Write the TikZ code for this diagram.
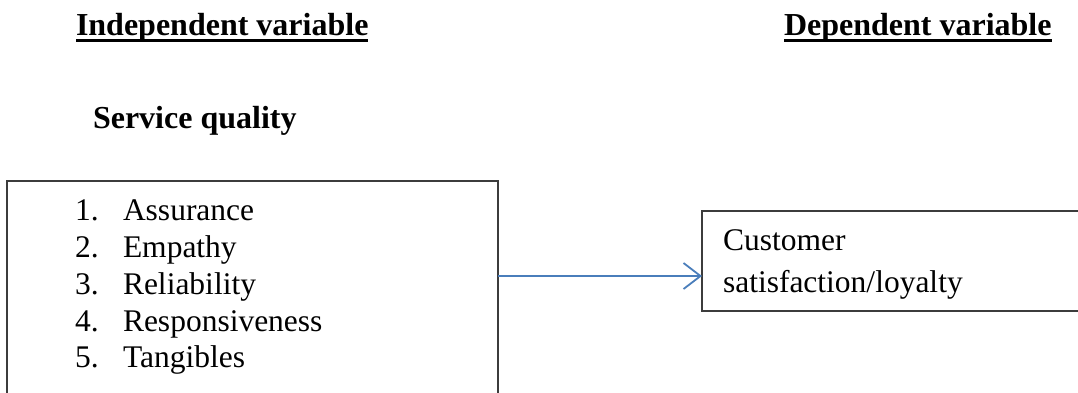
\documentclass[tikz,border=0pt]{standalone}
\usepackage{fontspec}
\setmainfont{Liberation Serif}
\usetikzlibrary{arrows.meta}
\definecolor{arrowblue}{RGB}{74,126,187}
\definecolor{boxgray}{RGB}{60,60,60}
\tikzset{
  txt/.style={anchor=base west, inner sep=0pt, outer sep=0pt, font=\fontsize{31.5}{37}\selectfont},
  hdr/.style={txt, font=\fontsize{32}{38}\selectfont\bfseries},
  box/.style={draw=boxgray, line width=1.3pt, anchor=north west, inner sep=0pt, outer sep=0pt},
  arr/.style={draw=arrowblue, line width=1.8pt, -{Straight Barb[length=17pt,width=26pt,line width=1.8pt]}},
  uline/.style={line width=2.8pt}
}
\begin{document}
\begin{tikzpicture}[x=1pt,y=-1pt]
\useasboundingbox (0,0) rectangle (1078,392);
\clip (0,0) rectangle (1078,392);
\fill[white] (0,0) rectangle (1078,392);

% headers
\node[hdr] (h1) at (76,35) {Independent variable};
\node[hdr] (h2) at (784,35) {Dependent variable};
\draw[uline] (h1.west |- 0,40.3) -- (h1.east |- 0,40.3);
\draw[uline] (h2.west |- 0,40.3) -- (h2.east |- 0,40.3);
\node[hdr] (sq) at (93,128) {Service quality};

% left box
\node[box, minimum width=491pt, minimum height=240pt] (lbox) at (7,181) {};
\node[txt] (n1) at (75,220) {1.};
\node[txt] (t1) at (123,220) {Assurance};
\node[txt] (n2) at (75,257) {2.};
\node[txt] (t2) at (123,257) {Empathy};
\node[txt] (n3) at (75,294) {3.};
\node[txt] (t3) at (123,294) {Reliability};
\node[txt] (n4) at (75,331) {4.};
\node[txt] (t4) at (123,331) {Responsiveness};
\node[txt] (n5) at (75,367) {5.};
\node[txt] (t5) at (123,367) {Tangibles};

% right box
\node[box, minimum width=420pt, minimum height=100pt] (rbox) at (702,211) {};
\node[txt] (c1) at (723,250) {Customer};
\node[txt] (c2) at (723,292) {satisfaction/loyalty};

% arrow
\coordinate (ay) at (600,276);
\draw[arr] (lbox.east |- ay) -- (rbox.west |- ay);
\end{tikzpicture}
\end{document}
